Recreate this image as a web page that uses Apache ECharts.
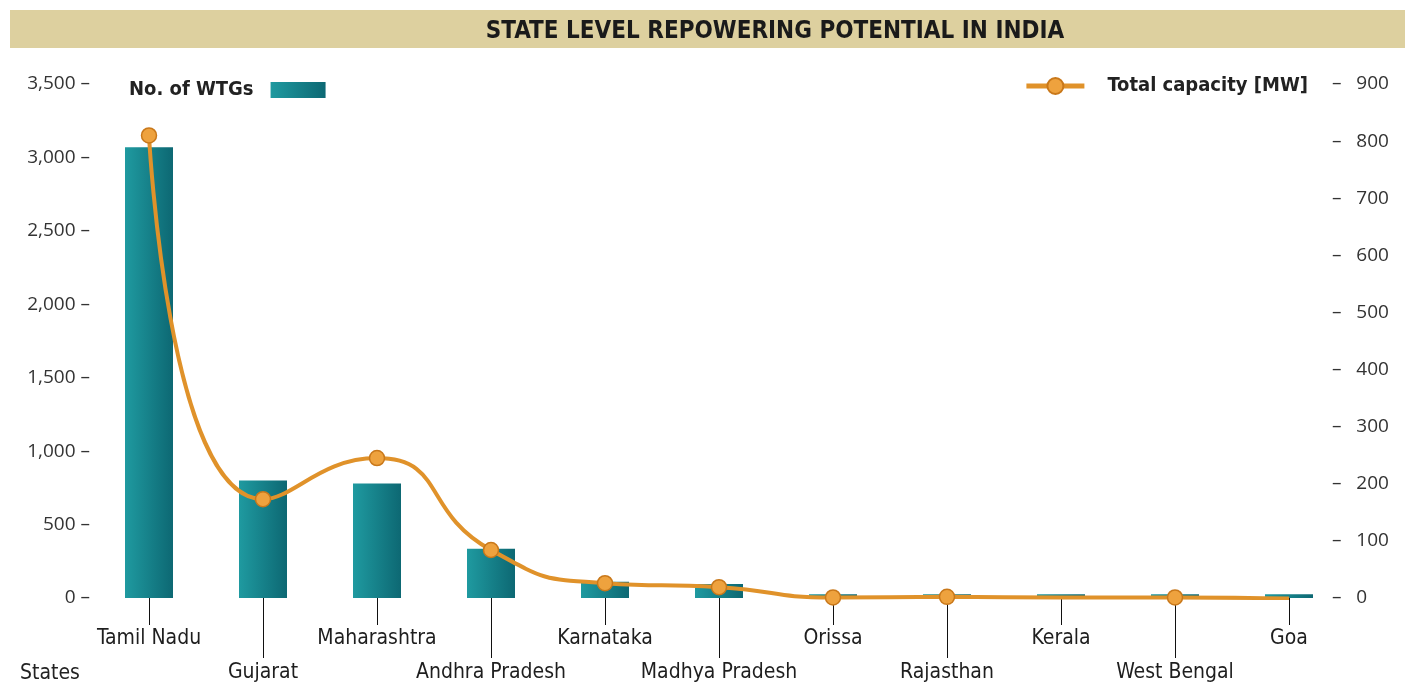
<!DOCTYPE html>
<html>
<head>
<meta charset="utf-8">
<script src="https://cdn.jsdelivr.net/npm/echarts@6/dist/echarts.min.js"></script>
<style>html,body{margin:0;padding:0;background:#fff}#c{width:1405px;height:699px}</style>
</head>
<body>
<div id="c"></div>
<script>
const states = ['Tamil Nadu','Gujarat','Maharashtra','Andhra Pradesh','Karnataka','Madhya Pradesh','Orissa','Rajasthan','Kerala','West Bengal','Goa'];
const wtgs = [3070, 800, 780, 335, 110, 95, 25, 25, 25, 25, 25];
const capacityMW = [810, 173, 245, 84, 26, 19, 1, 2, 1, 1, -1];
const leftTicks = [0, 500, 1000, 1500, 2000, 2500, 3000, 3500];
const rightTicks = [0, 100, 200, 300, 400, 500, 600, 700, 800, 900];
const noMarker = ['Kerala'];

const FONT = "'DejaVu Sans Condensed','Liberation Sans Narrow',sans-serif";
const chart = echarts.init(document.getElementById('c'), null, {renderer:'canvas'});

const lineData = capacityMW.map((v,i)=> noMarker.includes(states[i]) ? {value:v, symbol:'none'} : v);

chart.setOption({
  backgroundColor:'#fff',
  animation:false,
  graphic:[
    {type:'rect', shape:{x:10,y:10,width:1395,height:38}, style:{fill:'#ddd09f'}, z:0},
    {type:'text', left:20, top:663, style:{text:'States', font:"21px "+FONT, fill:'#222'}}
  ],
  title:{text:'STATE LEVEL REPOWERING POTENTIAL IN INDIA', left:770, textAlign:'center', top:15,
    textStyle:{fontFamily:FONT, fontSize:24, fontWeight:'bold', color:'#1a1a1a'}},
  legend:[
    {data:['No. of WTGs'], left:124, top:75, align:'right', itemWidth:55, itemHeight:16, itemGap:10, icon:'rect',
      textStyle:{fontFamily:FONT, fontSize:20, fontWeight:'bold', color:'#222', padding:[0,12,0,0]}},
    {data:['Total capacity [MW]'], right:92, top:71, align:'left', itemWidth:58, itemHeight:20,
      lineStyle:{width:5},
      textStyle:{fontFamily:FONT, fontSize:20, fontWeight:'bold', color:'#222', padding:[0,0,0,18]}}
  ],
  grid:{left:92, right:59, top:84, bottom:101, containLabel:false},
  xAxis:[
    {type:'category', data:states, position:'bottom',
      axisLine:{show:false},
      axisTick:{show:true, alignWithLabel:true, length:27, interval:(i)=>i%2===0, lineStyle:{color:'#111', width:1}},
      axisLabel:{interval:(i)=>i%2===0, margin:30, fontFamily:FONT, fontSize:21, color:'#1e1e1e'}},
    {type:'category', data:states, position:'bottom',
      axisLine:{show:false},
      axisTick:{show:true, alignWithLabel:true, length:60, interval:(i)=>i%2===1, lineStyle:{color:'#111', width:1}},
      axisLabel:{interval:(i)=>i%2===1, margin:64, fontFamily:FONT, fontSize:21, color:'#1e1e1e'}}
  ],
  yAxis:[
    {type:'value', min:0, max:3500, interval:500, splitLine:{show:false}, axisLine:{show:false}, axisTick:{show:false},
      axisLabel:{margin:2, fontFamily:"'Open Sans',sans-serif", fontSize:19, color:'#333',
        formatter:(v)=> leftTicks.includes(v) ? v.toLocaleString('en-US')+' \u2013' : ''}},
    {type:'value', min:0, max:900, interval:100, splitLine:{show:false}, axisLine:{show:false}, axisTick:{show:false},
      axisLabel:{margin:-14, fontFamily:"'Open Sans',sans-serif", fontSize:19, color:'#333',
        formatter:(v)=> rightTicks.includes(v) ? '\u2013   '+v : ''}}
  ],
  series:[
    {name:'No. of WTGs', type:'bar', data:wtgs, xAxisIndex:0, yAxisIndex:0, barWidth:48,
      itemStyle:{color:new echarts.graphic.LinearGradient(0,0,1,0,[{offset:0,color:'#1f9aa0'},{offset:1,color:'#0d6873'}])}},
    {name:'Total capacity [MW]', type:'line', data:lineData, xAxisIndex:0, yAxisIndex:1, smooth:0.55,
      symbol:'circle', symbolSize:15,
      lineStyle:{color:'#e0922a', width:4},
      itemStyle:{color:'#eea23e', borderColor:'#c9781a', borderWidth:1.5}, z:5}
  ]
});
</script>
</body>
</html>
